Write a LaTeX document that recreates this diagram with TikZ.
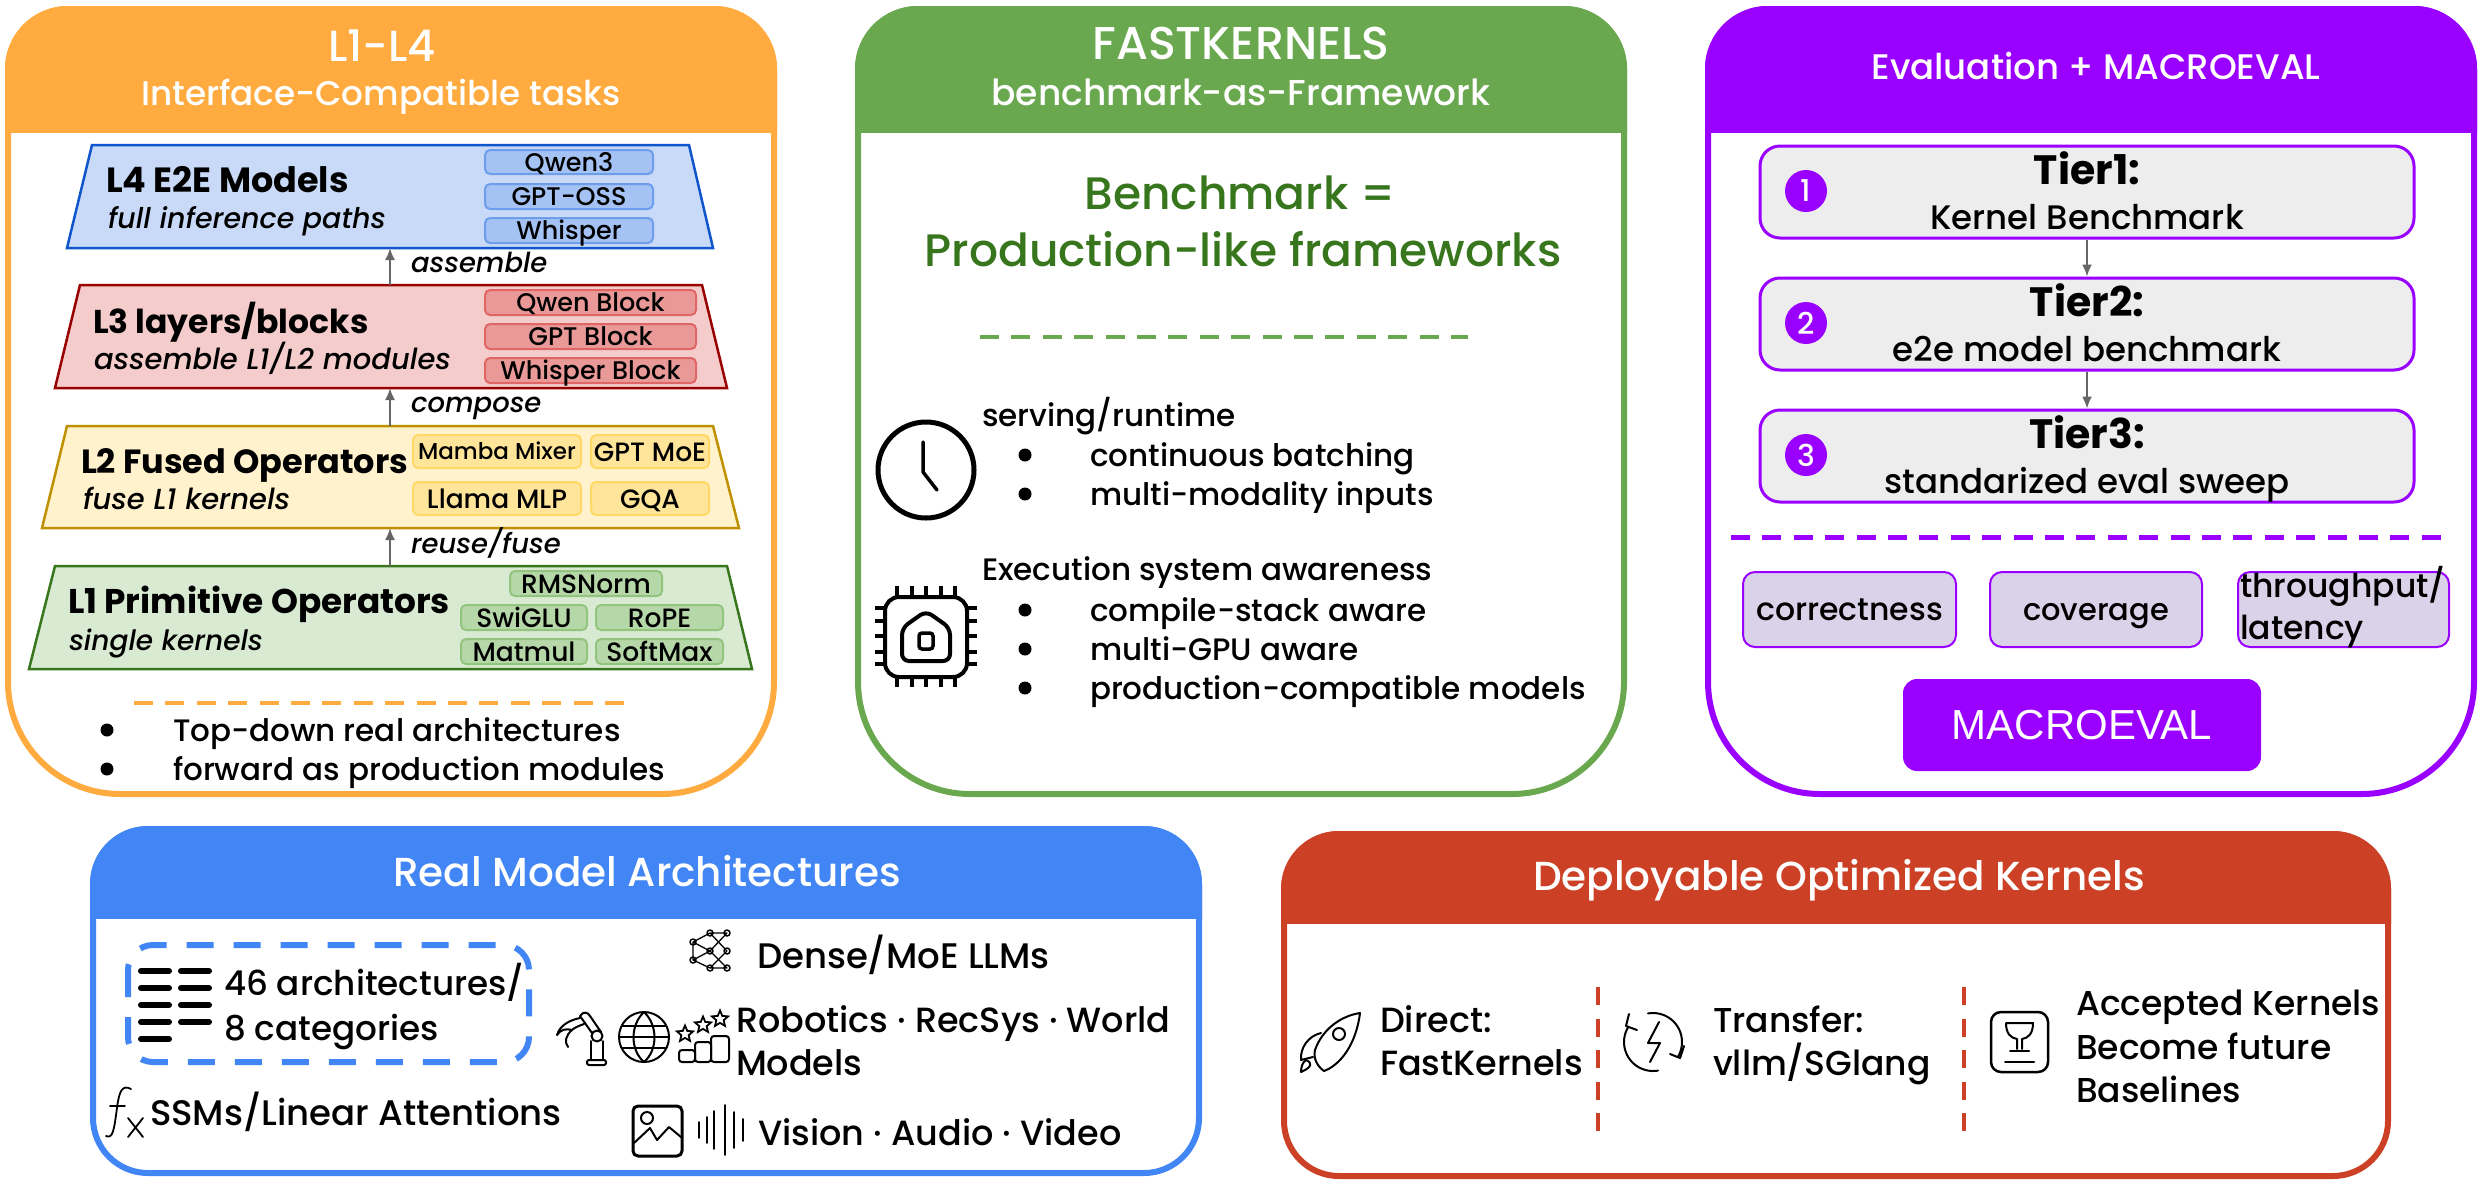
\documentclass[tikz,border=0pt]{standalone}
\usepackage{fontspec}
\setmainfont{Poppins}[UprightFont={* Medium},ItalicFont={* Medium Italic},BoldFont={* Bold},BoldItalicFont={* Bold Italic}]
\usetikzlibrary{arrows.meta,shapes.geometric}
\definecolor{cOr}{HTML}{FFAB40}
\definecolor{cGr}{HTML}{6AA84F}
\definecolor{cPu}{HTML}{9900FF}
\definecolor{cBl}{HTML}{4285F4}
\definecolor{cRe}{HTML}{CC4125}
\definecolor{cDg}{HTML}{38761D}
\definecolor{cAr}{HTML}{666666}
\definecolor{cMe}{HTML}{D9D2E9}
\definecolor{c4f}{HTML}{C9DAF8}\definecolor{c4s}{HTML}{1155CC}\definecolor{c4c}{HTML}{A4C2F4}\definecolor{c4d}{HTML}{6D9EEB}
\definecolor{c3f}{HTML}{F4CCCC}\definecolor{c3s}{HTML}{990000}\definecolor{c3c}{HTML}{EA9999}\definecolor{c3d}{HTML}{E06666}
\definecolor{c2f}{HTML}{FFF2CC}\definecolor{c2s}{HTML}{BF9000}\definecolor{c2c}{HTML}{FFE599}\definecolor{c2d}{HTML}{FFD966}
\definecolor{c1f}{HTML}{D9EAD3}\definecolor{c1s}{HTML}{38761D}\definecolor{c1c}{HTML}{B6D7A8}\definecolor{c1d}{HTML}{93C47D}
\tikzset{
 txt/.style={inner sep=0pt,outer sep=0pt,text=black},
 arr/.style={draw=cAr,line width=2pt,-{Latex[length=12pt,width=10pt]}},
 chipbox/.style={draw=#1,rounded corners=5pt,line width=2pt,inner sep=0pt},
 tier/.style={draw=cPu,fill=black!7,rounded corners=20pt,line width=3pt,inner sep=0pt},
 metric/.style={draw=cPu,fill=cMe,rounded corners=12pt,line width=2pt,inner sep=0pt},
 ico/.style={draw=black,line width=2pt,line cap=round,line join=round},
 icoB/.style={draw=black,line width=6pt,line cap=round,line join=round},
 lvl/.style={line width=2.5pt,line join=miter},
}
\newcommand\fsz[1]{\fontsize{#1}{#1}\selectfont}
% name x ycenter size text
\newcommand\TL[6][black]{\node[txt,text=#1,anchor=base west,font=\fsz{#5}] (#2) at (#3,{#4+0.36*#5}) {#6};}
\newcommand\TC[6][black]{\node[txt,text=#1,anchor=base,font=\fsz{#5}] (#2) at (#3,{#4+0.36*#5}) {#6};}
% style name x1 y1 x2 y2 size text
\newcommand\BOX[8]{%
 \pgfmathsetmacro\bw{#5-#3-2}\pgfmathsetmacro\bh{#6-#4-2}%
 \pgfmathsetmacro\bx{(#3+#5)/2}\pgfmathsetmacro\by{(#4+#6)/2}%
 \node[#1,minimum width=\bw pt,minimum height=\bh pt,align=center,font=\fsz{#7}] (#2) at (\bx,\by) {};
 \node[txt,anchor=base,font=\fsz{#7}] (#2t) at (\bx,{\by+0.36*#7}) {#8};}
% color x1 y1 x2 y2 rtop rbot headerbottom (centerline coordinates)
\newcommand\PANEL[8]{%
 \pgfmathsetmacro\pm{(#3+#5)/2}%
 \def\ppath{(#2,\pm) [rounded corners=#6pt] -- (#2,#3) -- (#4,#3) -- (#4,\pm) [rounded corners=#7pt] -- (#4,#5) -- (#2,#5) -- cycle}%
 \draw[#1,fill=white,line width=6pt] \ppath;
 \begin{scope}
 \clip (#2-5,#3-5) rectangle (#4+5,#8);
 \fill[#1,draw=#1,line width=6pt] \ppath;
 \end{scope}}
% fill stroke tx1 tx2 bx1 bx2 y1 y2
\newcommand\LEVEL[8]{\draw[lvl,fill=#1,draw=#2] (#3,#7) -- (#4,#7) -- (#6,#8) -- (#5,#8) -- cycle;}
\newcommand\ARCP[6][ico]{\draw[#1] plot[smooth,domain=#5:#6,samples=24] ({#2+#4*cos(\x)},{#3+#4*sin(\x)});}
\begin{document}
\begin{tikzpicture}[x=1pt,y=-1pt]
\useasboundingbox (0,0) rectangle (2483,1187);
% ===== Panel 1
\PANEL{cOr}{8}{9}{774}{794}{60}{112}{132}
\TC[white]{t1a}{382}{46}{43.5}{L1-L4}
\TC[white]{t1b}{381}{93}{34.2}{Interface-Compatible tasks}
\LEVEL{c4f}{c4s}{92}{689}{67}{713}{145}{248}
\LEVEL{c3f}{c3s}{80}{702}{55}{727}{285}{388}
\LEVEL{c2f}{c2s}{67}{713}{42}{739}{426}{528}
\LEVEL{c1f}{c1s}{55}{727}{29}{752}{566}{669}
\coordinate (l4b) at (390,248);\coordinate (l3t) at (390,285);
\coordinate (l3b) at (390,388);\coordinate (l2t) at (390,426);
\coordinate (l2b) at (390,528);\coordinate (l1t) at (390,566);
\draw[arr] (l3t) -- (l4b);\draw[arr] (l2t) -- (l3b);\draw[arr] (l1t) -- (l2b);
\TL{a1}{411}{263}{27.5}{\itshape assemble}
\TL{a2}{411}{403}{27.5}{\itshape compose}
\TL{a3}{411}{544}{27.5}{\itshape reuse/fuse}
\TL{n4}{106}{180}{35}{\bfseries L4 E2E Models}
\TL{s4}{108}{218}{28.5}{\itshape full inference paths}
\TL{n3}{93}{322}{33}{\bfseries L3 layers/blocks}
\TL{s3}{94}{359}{29}{\itshape assemble L1/L2 modules}
\TL{n2}{81}{461}{33.5}{\bfseries L2 Fused Operators}
\TL{s2}{83}{499}{29}{\itshape fuse L1 kernels}
\TL{n1}{68}{601}{34.3}{\bfseries L1 Primitive Operators}
\TL{s1}{69}{640}{28}{\itshape single kernels}
\BOX{chipbox=c4d,fill=c4c}{c41}{484}{149}{654}{175}{25.5}{Qwen3}
\BOX{chipbox=c4d,fill=c4c}{c42}{484}{183}{654}{210}{25.5}{GPT-OSS}
\BOX{chipbox=c4d,fill=c4c}{c43}{484}{217}{654}{244}{25.5}{Whisper}
\BOX{chipbox=c3d,fill=c3c}{c31}{484}{289}{697}{316}{25.5}{Qwen Block}
\BOX{chipbox=c3d,fill=c3c}{c32}{484}{323}{697}{350}{25.5}{GPT Block}
\BOX{chipbox=c3d,fill=c3c}{c33}{484}{357}{697}{384}{25.5}{Whisper Block}
\BOX{chipbox=c2d,fill=c2c}{c21}{412}{434}{582}{469}{23}{Mamba Mixer}
\BOX{chipbox=c2d,fill=c2c}{c22}{590}{434}{710}{469}{26.5}{GPT MoE}
\BOX{chipbox=c2d,fill=c2c}{c23}{412}{481}{582}{516}{26.5}{Llama MLP}
\BOX{chipbox=c2d,fill=c2c}{c24}{590}{481}{710}{516}{26.5}{GQA}
\BOX{chipbox=c1d,fill=c1c}{c11}{509}{570}{663}{597}{26.5}{RMSNorm}
\BOX{chipbox=c1d,fill=c1c}{c12}{460}{604}{588}{631}{26.5}{SwiGLU}
\BOX{chipbox=c1d,fill=c1c}{c13}{595}{604}{724}{631}{26.5}{RoPE}
\BOX{chipbox=c1d,fill=c1c}{c14}{460}{638}{588}{665}{26.5}{Matmul}
\BOX{chipbox=c1d,fill=c1c}{c15}{595}{638}{724}{665}{26.5}{SoftMax}
\draw[cOr,line width=4pt,dash pattern=on 19pt off 12.4pt] (134,703) -- (624,703);
\fill (107,730) circle (6.5pt);\fill (107,769) circle (6.5pt);
\TL{b1}{173}{730}{31}{Top-down real architectures}
\TL{b2}{173}{769}{31}{forward as production modules}
% ===== Panel 2
\PANEL{cGr}{858}{9}{1624}{794}{60}{112}{132}
\TC[white]{t2a}{1241}{43}{46}{FASTKERNELS}
\TC[white]{t2b}{1241}{93}{36}{benchmark-as-Framework}
\TC[cDg]{h2a}{1240}{193}{45.5}{Benchmark =}
\TC[cDg]{h2b}{1243}{250}{45.5}{Production-like frameworks}
\draw[cGr,line width=4pt,dash pattern=on 19pt off 12.4pt] (980,337) -- (1468,337);
% clock
\draw[black,line width=5pt] (926,470) circle (48pt);
\draw[black,line width=3.5pt,line cap=round,line join=round] (923,442) -- (923,472) -- (937,490);
\TL{f1}{982}{415}{31}{serving/runtime}
\TL{f2}{1090}{455}{31}{continuous batching}
\TL{f3}{1090}{494}{31}{multi-modality inputs}
\TL{f4}{982}{569}{31}{Execution system awareness}
\TL{f5}{1090}{610}{31}{compile-stack aware}
\TL{f6}{1090}{649}{31}{multi-GPU aware}
\TL{f7}{1090}{688}{31}{production-compatible models}
\foreach \yy in {455,494,610,649,688}{\fill (1025,\yy) circle (6.5pt);}
% chip icon
\draw[black,line width=4pt,rounded corners=14pt] (885,597) rectangle (967,677);
\foreach \xx in {897,912,926,941,955}{\draw[black,line width=3.5pt] (\xx,586) -- (\xx,597);\draw[black,line width=3.5pt] (\xx,677) -- (\xx,687);}
\foreach \yy in {608,621,636,652,664}{\draw[black,line width=3.5pt] (875,\yy) -- (885,\yy);\draw[black,line width=3.5pt] (967,\yy) -- (977,\yy);}
\draw[black,line width=4pt,rounded corners=7pt] (926,611) -- (950,628) -- (950,661) -- (902,661) -- (902,628) -- cycle;
\draw[black,line width=3.5pt,rounded corners=3pt] (919,633) rectangle (933,649);
% ===== Panel 3
\PANEL{cPu}{1708}{9}{2474}{794}{60}{112}{132}
\TC[white]{t3a}{2096}{67}{35.5}{Evaluation + MACROEVAL}
\BOX{tier}{tb1}{1759}{145}{2415}{239}{30}{}
\BOX{tier}{tb2}{1759}{277}{2415}{371}{30}{}
\BOX{tier}{tb3}{1759}{409}{2415}{503}{30}{}
\draw[arr] (tb1) -- (tb2);\draw[arr] (tb2) -- (tb3);
\foreach \nn/\yy in {1/191,2/323,3/455}{\node[circle,fill=cPu,text=white,minimum size=42pt,inner sep=0pt,font=\fsz{30}] (cn\nn) at (1806,\yy) {\nn};}
\TC{tt1}{2087}{170}{41}{\bfseries Tier1:}
\TC{ts1}{2087}{217}{34}{Kernel Benchmark}
\TC{tt2}{2087}{302}{41}{\bfseries Tier2:}
\TC{ts2}{2087}{349}{34}{e2e model benchmark}
\TC{tt3}{2087}{434}{41}{\bfseries Tier3:}
\TC{ts3}{2087}{481}{34}{standarized eval sweep}
\draw[cPu,line width=5pt,dash pattern=on 19pt off 12.4pt] (1731,537) -- (2443,537);
\BOX{metric}{m1}{1742}{571}{1957}{648}{31.5}{correctness}
\BOX{metric}{m2}{1989}{571}{2203}{648}{30.5}{coverage}
\BOX{metric}{m3}{2237}{571}{2450}{648}{33}{}
\TL{m3a}{2240}{586}{33}{throughput/}
\TL{m3b}{2240}{628}{33}{latency}
\node[fill=cPu,rounded corners=14pt,minimum width=358pt,minimum height=92pt,text=white,font=\fontspec{Liberation Sans}\fsz{42}] (me) at (2082,725) {MACROEVAL};
% ===== Panel 4
\PANEL{cBl}{93}{829}{1199}{1173}{55}{55}{918}
\TC[white]{t4}{647}{872}{40.5}{Real Model Architectures}
\draw[cBl,line width=6pt,rounded corners=25pt,dash pattern=on 27pt off 20pt] (128,945) rectangle (529,1062);
\foreach \yy in {971,988,1005,1022,1039}{\draw[icoB] (141,\yy) -- (169,\yy);}
\foreach \yy in {971,988,1005,1022}{\draw[icoB] (181,\yy) -- (209,\yy);}
\TL{k1}{224}{983}{34.2}{46 architectures/}
\TL{k2}{224}{1028}{34.2}{8 categories}
\draw[ico,line width=1.8pt] (131,1089) .. controls (122,1084) and (119,1092) .. (117,1108) .. controls (114,1130) and (113,1139) .. (106,1136);
\draw[ico,line width=1.8pt] (110,1106) -- (125,1106);
\draw[ico,line width=1.8pt] (128,1118) -- (143,1137) (143,1118) -- (128,1137);
\TL{k3}{150}{1113}{35.5}{SSMs/Linear Attentions}
\TL{k4}{757}{956}{35.5}{Dense/MoE LLMs}
\TL{k5}{736}{1020}{35}{Robotics · RecSys · World}
\TL{k6}{736}{1063}{35}{Models}
\TL{k7}{758}{1133}{35}{Vision · Audio · Video}
% network
\foreach \a/\b in {710/933,727/933,693/942,693/960,710/951,727/951,710/968,727/968}{\draw[ico,line width=1.5pt] (\a,\b) circle (3pt);}
\draw[ico,line width=1.3pt] (710,933)--(693,942)--(710,951)--(693,960)--(710,968) (710,933)--(727,951)--(710,968) (727,933)--(710,951)--(727,968) (693,942)--(693,960) (710,933)--(727,933) (710,968)--(727,968) (727,933)--(710,951);
% robot arm
\draw[ico,rounded corners=2pt] (587,1060) rectangle (606,1065);
\draw[ico] (591,1060) -- (591,1041) (603,1060) -- (603,1041);
\draw[ico] (597,1036) circle (5.5pt);
\draw[ico] (592,1033) -- (580,1016) .. controls (583,1011) and (588,1012) .. (590,1016) -- (601,1032);
\draw[ico] (580,1018) .. controls (570,1020) and (560,1025) .. (557,1035) .. controls (560,1030) and (566,1028) .. (572,1030) (572,1030) .. controls (566,1035) and (564,1042) .. (568,1047) (584,1024) .. controls (578,1026) and (574,1028) .. (572,1030);
% globe
\draw[ico] (644,1037) circle (25pt);
\draw[ico] (644,1012) .. controls (630,1025) and (630,1050) .. (644,1062) .. controls (658,1050) and (658,1025) .. (644,1012);
\draw[ico] (622,1026) -- (666,1026) (622,1048) -- (666,1048) (619,1037) -- (669,1037);
% bars & stars
\draw[ico,rounded corners=3pt] (679,1062) rectangle (695,1050);
\draw[ico,rounded corners=3pt] (695,1062) rectangle (711,1042);
\draw[ico,rounded corners=3pt] (711,1062) rectangle (729,1036);
\foreach \nn/\a/\b in {1/685/1034,2/703/1025,3/720/1019}{\node[star,star points=5,star point ratio=2.2,draw=black,line width=1.8pt,minimum size=17pt,inner sep=0pt] (st\nn) at (\a,\b) {};}
% image
\draw[ico,line width=3pt,rounded corners=5pt] (633,1106) rectangle (682,1156);
\draw[ico] (647,1118) circle (6pt);
\draw[ico,line join=round] (634,1143) -- (650,1128) -- (657,1140) -- (669,1127) -- (681,1137);
% waveform
\foreach \a/\h in {699/8,707/13,714/19,725/25,734/18,743/11}{\draw[ico,line width=1.6pt] (\a,1130-\h) -- (\a,1130+\h);}
% ===== Panel 5
\PANEL{cRe}{1284}{834}{2388}{1176}{55}{55}{923}
\TC[white]{t5}{1839}{876}{40.5}{Deployable Optimized Kernels}
\draw[cRe,line width=3.5pt,dash pattern=on 18pt off 13.5pt] (1598,987) -- (1598,1132);
\draw[cRe,line width=3.5pt,dash pattern=on 18pt off 13.5pt] (1964,987) -- (1964,1132);
\TL{d1}{1380}{1020}{35}{Direct:}
\TL{d2}{1380}{1063}{35}{FastKernels}
\TL{d3}{1713}{1020}{34.5}{Transfer:}
\TL{d4}{1713}{1063}{34.5}{vllm/SGlang}
\TL{d5}{2076}{1003}{34.5}{Accepted Kernels}
\TL{d6}{2076}{1047}{34.5}{Become future}
\TL{d7}{2076}{1090}{34.5}{Baselines}
% rocket
\draw[ico] (1360,1013) .. controls (1340,1016) and (1322,1030) .. (1315,1050) .. controls (1313,1058) and (1317,1066) .. (1324,1071) .. controls (1340,1065) and (1356,1045) .. (1360,1013) -- cycle;
\draw[ico] (1339,1034) circle (6pt);
\draw[ico] (1321,1033) .. controls (1308,1036) and (1300,1048) .. (1301,1060) -- (1313,1057);
\draw[ico] (1301,1072) .. controls (1301,1066) and (1303,1062) .. (1306,1060) .. controls (1312,1062) and (1313,1067) .. (1301,1072);
% refresh
\ARCP{1653}{1042}{29}{-100}{30}
\ARCP{1653}{1042}{29}{80}{210}
\draw[ico] (1637,1030) -- (1626,1026) -- (1629,1014);
\draw[ico] (1670,1054) -- (1680,1058) -- (1684,1046);
\draw[ico,line join=round] (1659,1022) -- (1648,1043) -- (1660,1043) -- (1650,1062);
% trophy
\draw[ico,line width=2.5pt,rounded corners=10pt] (1991,1012) rectangle (2048,1072);
\draw[ico] (2006,1023) -- (2033,1023) .. controls (2033,1034) and (2028,1038) .. (2022,1039) -- (2022,1049) (2006,1023) .. controls (2006,1034) and (2011,1038) .. (2017,1039) -- (2017,1049);
\draw[ico] (2010,1051) -- (2029,1051) (2005,1062) -- (2034,1062);
\end{tikzpicture}
\end{document}
